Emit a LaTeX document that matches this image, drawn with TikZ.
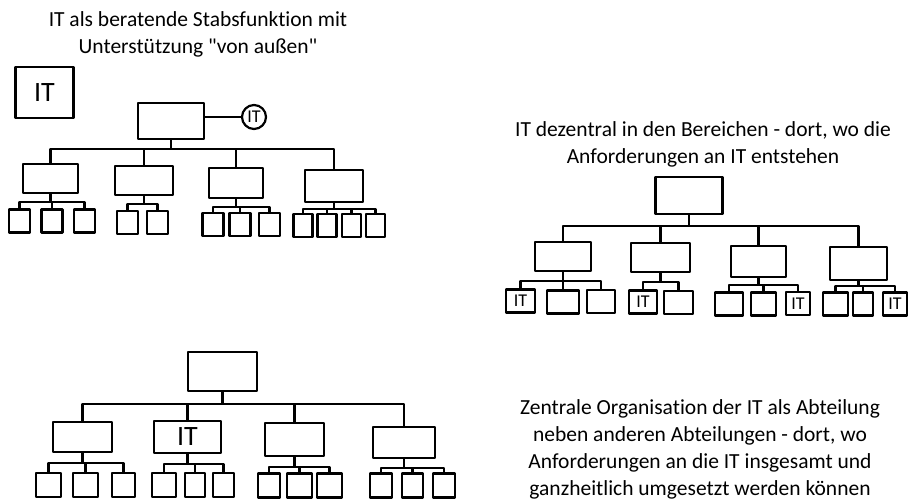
\documentclass[tikz,border=0pt]{standalone}
\usepackage{fontspec}
\setmainfont{Carlito}[Ligatures={TeXOff,NoCommon}]

\begin{document}
\begin{tikzpicture}[x=1pt, y=-1pt, line cap=round, line join=round,
  box/.style={draw, line width=2.2pt, inner sep=0pt},
  sbox/.style={box, minimum width=21pt, minimum height=23pt},
  link/.style={line width=2.2pt},
  handIT/.style={font=\fontsize{28}{28}\selectfont},
  smallIT/.style={font=\fontsize{18}{18}\selectfont},
  title/.style={align=center, inner sep=0pt, font=\fontsize{21.5}{27}\selectfont}]

\useasboundingbox (0,0) rectangle (916,502);

% IT als Stabsfunktion
\node[title] (t1) at (198,34) {IT als beratende Stabsfunktion mit\\Unterstützung "von außen"};
\node[box, minimum width=58pt, minimum height=51pt, handIT] (it) at (44.5,92.5) {IT};
\node[box, minimum width=66pt, minimum height=36pt] (a0) at (171,121) {};
\node[draw, circle, line width=2.2pt, minimum size=24pt, inner sep=0pt, smallIT] (itc) at (254,117) {IT};
\draw[link] (itc.west) -- (itc.west -| a0.east);

\node[box, minimum width=55pt, minimum height=29pt] (b1) at (50.5,178.5) {};
\node[box, minimum width=58pt, minimum height=29pt] (b2) at (144,180.5) {};
\node[box, minimum width=54pt, minimum height=30pt] (b3) at (236,183) {};
\node[box, minimum width=58pt, minimum height=32pt] (b4) at (334,186) {};
\foreach \c in {b1,b2,b3,b4} \draw[link] (a0.south) -- ++(0,9) -| (\c.north);

\foreach \n/\x in {1/19.5,2/52,3/84.5} \node[sbox] (b1\n) at (\x,221) {};
\foreach \n in {1,2,3} \draw[link] (b1.south) -- ++(0,8) -| (b1\n.north);
\foreach \n/\x in {1/127.5,2/157.5} \node[sbox] (b2\n) at (\x,222.5) {};
\foreach \n in {1,2} \draw[link] (b2.south) -- ++(0,8) -| (b2\n.north);
\foreach \n/\x in {1/213,2/240,3/269.5} \node[sbox] (b3\n) at (\x,224.5) {};
\foreach \n in {1,2,3} \draw[link] (b3.south) -- ++(0,8) -| (b3\n.north);
\foreach \n/\x in {1/303,2/327,3/351.5,4/375.5} \node[sbox, minimum width=19pt] (b4\n) at (\x,225.5) {};
\foreach \n in {1,2,3,4} \draw[link] (b4.south) -- ++(0,6) -| (b4\n.north);

% IT dezentral
\node[title] (t2) at (703,144.5) {IT dezentral in den Bereichen - dort, wo die\\Anforderungen an IT entstehen};
\node[box, minimum width=67pt, minimum height=37pt] (c0) at (689,195.5) {};

\node[box, minimum width=56pt, minimum height=29pt] (d1) at (563,256.5) {};
\node[box, minimum width=59pt, minimum height=29pt] (d2) at (660.5,257.5) {};
\node[box, minimum width=55pt, minimum height=31pt] (d3) at (758.5,261.5) {};
\node[box, minimum width=57pt, minimum height=33pt] (d4) at (858.5,263.5) {};
\foreach \c in {d1,d2,d3,d4} \draw[link] (c0.south) -- ++(0,11) -| (\c.north);

\node[sbox, minimum width=29pt, smallIT] (d11) at (520.5,301) {IT};
\node[sbox, minimum width=32pt] (d12) at (563,302) {};
\node[sbox, minimum width=28pt] (d13) at (601,301.5) {};
\foreach \n in {1,2,3} \draw[link] (d1.south) -- ++(0,9) -| (d1\n.north);
\node[sbox, minimum width=28pt, smallIT] (d21) at (643,302) {IT};
\node[sbox, minimum width=29pt] (d22) at (678.5,302.5) {};
\foreach \n in {1,2} \draw[link] (d2.south) -- ++(0,9) -| (d2\n.north);
\node[sbox, minimum width=28pt] (d31) at (729,304) {};
\node[sbox, minimum width=25pt] (d32) at (763.5,304) {};
\node[sbox, minimum width=24pt, smallIT] (d33) at (798,303.5) {IT};
\foreach \n in {1,2,3} \draw[link] (d3.south) -- ++(0,7) -| (d3\n.north);
\node[sbox, minimum width=25pt] (d41) at (835.5,304) {};
\node[sbox, minimum width=20pt] (d42) at (863,304) {};
\node[sbox, minimum width=24pt, smallIT] (d43) at (895,304) {IT};
\foreach \n in {1,2,3} \draw[link] (d4.south) -- ++(0,5) -| (d4\n.north);

% IT als Abteilung
\node[title] (t3) at (700,449.5) {Zentrale Organisation der IT als Abteilung\\neben anderen Abteilungen - dort, wo\\Anforderungen an die IT insgesamt und\\ganzheitlich umgesetzt werden können};
\node[box, minimum width=69pt, minimum height=39pt] (e0) at (222.5,371.5) {};

\node[box, minimum width=59pt, minimum height=30pt] (f1) at (82.5,437) {};
\node[box, minimum width=67pt, minimum height=32pt, handIT] (f2) at (187.5,437) {IT};
\node[box, minimum width=59pt, minimum height=33pt] (f3) at (294.5,439.5) {};
\node[box, minimum width=62pt, minimum height=31pt] (f4) at (404,442.5) {};
\foreach \c in {f1,f2,f3,f4} \draw[link] (e0.south) -- ++(0,12) -| (\c.north);

\foreach \n/\x/\w in {1/48.5/25,2/85.5/25,3/123.5/23} \node[sbox, minimum width=\w pt, minimum height=24pt] (f1\n) at (\x,485) {};
\foreach \n in {1,2,3} \draw[link] (f1.south) -- ++(0,10) -| (f1\n.north);
\foreach \n/\x/\w in {1/164/24,2/195/20,3/223.5/21} \node[sbox, minimum width=\w pt, minimum height=24pt] (f2\n) at (\x,485) {};
\foreach \n in {1,2,3} \draw[link] (f2.south) -- ++(0,10) -| (f2\n.north);
\foreach \n/\x/\w in {1/269/22,2/299.5/25,3/329.5/25} \node[sbox, minimum width=\w pt, minimum height=24pt] (f3\n) at (\x,485.5) {};
\foreach \n in {1,2,3} \draw[link] (f3.south) -- ++(0,10) -| (f3\n.north);
\foreach \n/\x/\w in {1/381/22,2/412.5/21,3/444/22} \node[sbox, minimum width=\w pt, minimum height=24pt] (f4\n) at (\x,485.5) {};
\foreach \n in {1,2,3} \draw[link] (f4.south) -- ++(0,9) -| (f4\n.north);

\end{tikzpicture}
\end{document}
